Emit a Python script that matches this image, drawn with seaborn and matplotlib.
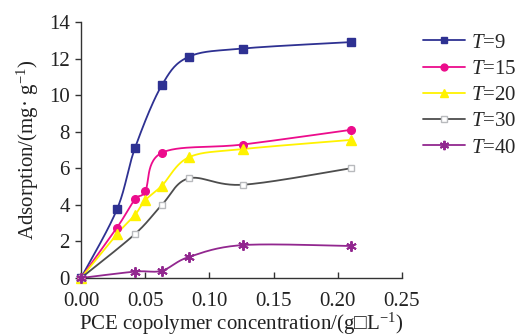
import numpy as np
import pandas as pd
import matplotlib
matplotlib.use("Agg")
import matplotlib.pyplot as plt
from matplotlib.lines import Line2D
import seaborn as sns

# ---- data ----
labels = ["9", "15", "20", "30", "40"]
x_t9 = [0.0, 0.028, 0.042, 0.063, 0.084, 0.126, 0.21]
y_t9 = [0.0, 3.75, 7.1, 10.55, 12.1, 12.55, 12.9]
x_t15 = [0.0, 0.028, 0.042, 0.05, 0.063, 0.126, 0.21]
y_t15 = [0.0, 2.75, 4.3, 4.75, 6.85, 7.3, 8.1]
x_t20 = [0.0, 0.028, 0.042, 0.05, 0.063, 0.084, 0.126, 0.21]
y_t20 = [0.0, 2.4, 3.45, 4.25, 5.05, 6.6, 7.05, 7.55]
x_t30 = [0.0, 0.042, 0.063, 0.084, 0.126, 0.21]
y_t30 = [0.0, 2.4, 4.0, 5.45, 5.1, 6.0]
x_t40 = [0.0, 0.042, 0.063, 0.084, 0.126, 0.21]
y_t40 = [0.0, 0.35, 0.4, 1.15, 1.8, 1.75]
x_ticks = [0.00, 0.05, 0.10, 0.15, 0.20, 0.25]
y_ticks = [0, 2, 4, 6, 8, 10, 12, 14]

series = [(x_t9, y_t9), (x_t15, y_t15), (x_t20, y_t20), (x_t30, y_t30), (x_t40, y_t40)]
line_colors = ["#2E3192", "#EC0C8C", "#FFF200", "#4D4D4D", "#92278F"]
marker_face = ["#2E3192", "#EC0C8C", "#FFF200", "white", "#92278F"]
marker_edge = ["#2E3192", "#EC0C8C", "#FFF200", "#B8BABD", "#92278F"]
markers = ["s", "o", "^", "s", (6, 2, 0)]
msizes = [5.5, 5.5, 6.5, 4.5, 7.5]
FS = 15

sns.set_theme(style="ticks")
plt.rcParams["font.family"] = ["Liberation Serif", "DejaVu Serif"]
plt.rcParams["mathtext.fontset"] = "custom"
plt.rcParams["mathtext.rm"] = "Liberation Serif"
plt.rcParams["mathtext.it"] = "Liberation Serif:italic"

fig = plt.figure(figsize=(5.16, 3.36), dpi=100)
ax = fig.add_axes([81 / 516, 1 - 278 / 336, 321 / 516, 256 / 336])

XR, YR = 0.25, 14.0
PW, PH = 321.0, 256.0


def smooth(xs, ys, n=30):
    # Excel-style smoothed line (Bezier through points), computed in pixel space
    P = np.column_stack([np.asarray(xs) / XR * PW, np.asarray(ys) / YR * PH])
    out = [P[0]]
    for i in range(len(P) - 1):
        p0 = P[i - 1] if i > 0 else P[i]
        p1, p2 = P[i], P[i + 1]
        p3 = P[i + 2] if i + 2 < len(P) else P[i + 1]
        c1 = p1 + (p2 - p0) / 6.0
        c2 = p2 - (p3 - p1) / 6.0
        t = np.linspace(0, 1, n)[1:, None]
        b = ((1 - t) ** 3) * p1 + 3 * ((1 - t) ** 2) * t * c1 + 3 * (1 - t) * t ** 2 * c2 + t ** 3 * p2
        out.extend(b)
    out = np.array(out)
    return out[:, 0] / PW * XR, out[:, 1] / PH * YR


handles = []
for k, (xs, ys) in enumerate(series):
    sx, sy = smooth(xs, ys)
    df_line = pd.DataFrame({"x": sx, "y": sy})
    sns.lineplot(data=df_line, x="x", y="y", sort=False, estimator=None,
                 color=line_colors[k], lw=1.3, ax=ax, zorder=2)
    df_pts = pd.DataFrame({"x": xs, "y": ys})
    ax.plot(df_pts["x"], df_pts["y"], ls="none", marker=markers[k], ms=msizes[k],
            mfc=marker_face[k], mec=marker_edge[k], mew=1.0 if k != 4 else 1.4,
            zorder=3, clip_on=False)
    handles.append(Line2D([], [], color=line_colors[k], lw=1.3, marker=markers[k],
                          ms=msizes[k] * 0.9, mfc=marker_face[k], mec=marker_edge[k],
                          mew=1.0 if k != 4 else 1.4))

ax.set_xlim(0, 0.25)
ax.set_ylim(0, 14)
ax.set_xticks(x_ticks)
ax.set_xticklabels([f"{v:.2f}" for v in x_ticks])
ax.set_yticks(y_ticks)
ax.set_yticklabels([str(v) for v in y_ticks])
for s in ["top", "right"]:
    ax.spines[s].set_visible(False)
for s in ["left", "bottom"]:
    ax.spines[s].set_color("#333333")
    ax.spines[s].set_linewidth(1.0)
ax.tick_params(axis="x", direction="in", length=4, width=1, colors="#333333",
               labelsize=FS, labelcolor="#222222", pad=10)
ax.tick_params(axis="y", direction="out", length=4, width=1, colors="#333333",
               labelsize=FS, labelcolor="#222222", pad=4)
ax.set_xlabel("PCE copolymer concentration/(g\u25a1L$^{-1}$)", fontsize=FS,
              color="#222222", labelpad=0)
ax.set_ylabel("Adsorption/(mg\u00b7 g$^{-1}$)", fontsize=FS, color="#222222", labelpad=6)
ax.grid(False)

fig.legend(handles, [f"$\\mathit{{T}}$={l}" for l in labels], loc="upper left",
           bbox_to_anchor=(423 / 516, 1 - 33 / 336), frameon=False, fontsize=FS,
           handlelength=2.0, labelspacing=0.32, handletextpad=0.3, borderaxespad=0,
           borderpad=0)

fig.savefig("out.png", dpi=100)
